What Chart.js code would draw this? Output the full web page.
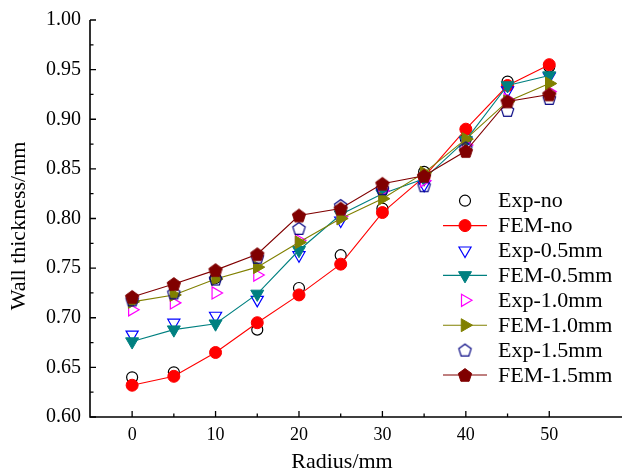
<!DOCTYPE html>
<html>
<head>
<meta charset="utf-8">
<script src="https://cdn.jsdelivr.net/npm/chart.js@4.4.0/dist/chart.umd.min.js"></script>
<style>
    html, body { margin: 0; padding: 0; background: #fff; }
    #contenedor { width: 622px; height: 474px; }
</style>
</head>
<body>
<div id="contenedor"><canvas id="grafico" width="622" height="474"></canvas></div>
<script>
// datos
const radius = [0, 5, 10, 15, 20, 25, 30, 35, 40, 45, 50];
const expNo  = [0.640, 0.645, 0.740, 0.688, 0.730, 0.763, 0.810, 0.847, 0.880, 0.938, 0.953];
const femNo  = [0.632, 0.641, 0.665, 0.695, 0.723, 0.754, 0.806, 0.842, 0.890, 0.934, 0.955];
const exp05  = [0.683, 0.695, 0.702, 0.718, 0.763, 0.798, 0.826, 0.834, 0.878, 0.929, 0.943];
const fem05  = [0.676, 0.688, 0.694, 0.724, 0.768, 0.804, 0.825, 0.840, 0.879, 0.934, 0.944];
const exp10  = [0.708, 0.715, 0.725, 0.743, 0.778, 0.802, 0.828, 0.838, 0.874, 0.920, 0.928];
const fem10  = [0.716, 0.723, 0.739, 0.751, 0.776, 0.800, 0.820, 0.846, 0.880, 0.918, 0.936];
const exp15  = [0.718, 0.725, 0.739, 0.761, 0.790, 0.813, 0.830, 0.833, 0.871, 0.909, 0.921];
const fem15  = [0.721, 0.734, 0.748, 0.764, 0.803, 0.810, 0.835, 0.843, 0.868, 0.918, 0.925];

const xTicks = [0, 10, 20, 30, 40, 50];
const xMinor = [5, 15, 25, 35, 45];
const yTicks = [0.60, 0.65, 0.70, 0.75, 0.80, 0.85, 0.90, 0.95, 1.00];
const yMinor = [0.625, 0.675, 0.725, 0.775, 0.825, 0.875, 0.925, 0.975];

const FUENTE = '"Liberation Serif", "Times New Roman", serif';

// Funcion para crear un pentagono como imagen de marcador
const pentagono = (r, relleno, borde, grosor) => {
    const c = document.createElement('canvas');
    const s = Math.ceil(2 * r + 4);
    c.width = s; c.height = s;
    const g = c.getContext('2d');
    g.beginPath();
    for (let i = 0; i < 5; i++) {
        const a = -Math.PI / 2 + i * 2 * Math.PI / 5;
        const px = s / 2 + r * Math.cos(a);
        const py = s / 2 + 0.6 + r * Math.sin(a);
        if (i === 0) g.moveTo(px, py); else g.lineTo(px, py);
    }
    g.closePath();
    if (relleno) { g.fillStyle = relleno; g.fill(); }
    if (borde) { g.strokeStyle = borde; g.lineWidth = grosor; g.stroke(); }
    return c;
};

const puntos = (valores) => radius.map((r, i) => ({ x: r, y: valores[i] }));

const serieExp = (label, valores, color, estilo, radio, rot) => ({
    label, data: puntos(valores), showLine: false,
    pointStyle: estilo, pointRadius: radio, pointRotation: rot || 0,
    pointBorderColor: color, pointBackgroundColor: 'rgba(0,0,0,0)', pointBorderWidth: 1.2,
    borderColor: color, backgroundColor: 'rgba(0,0,0,0)'
});

const serieFem = (label, valores, color, estilo, radio, rot) => ({
    label, data: puntos(valores), showLine: true, borderWidth: 1.1,
    borderColor: color, backgroundColor: color,
    pointStyle: estilo, pointRadius: radio, pointRotation: rot || 0,
    pointBorderColor: color, pointBackgroundColor: color, pointBorderWidth: 1
});

const series = [
    serieExp('Exp-no', expNo, '#000000', 'circle', 5.5),
    serieFem('FEM-no', femNo, '#ff0000', 'circle', 6),
    serieExp('Exp-0.5mm', exp05, '#0000ff', 'triangle', 7, 180),
    serieFem('FEM-0.5mm', fem05, '#008080', 'triangle', 7.5, 180),
    serieExp('Exp-1.0mm', exp10, '#ff00ff', 'triangle', 7, 90),
    serieFem('FEM-1.0mm', fem10, '#808000', 'triangle', 7.5, 90),
    serieExp('Exp-1.5mm', exp15, '#000080', pentagono(6.5, null, '#000080', 1.2), 7),
    serieFem('FEM-1.5mm', fem15, '#800000', pentagono(7, '#800000', '#800000', 1), 7)
];
series.forEach((s, i) => { s.order = -i; });

// Plugin para ejes, marcas, titulos y leyenda
const ejesYLeyenda = {
    id: 'ejesYLeyenda',
    afterDraw(chart) {
        const ctx = chart.ctx;
        const a = chart.chartArea;
        const sx = chart.scales.x, sy = chart.scales.y;
        ctx.save();
        ctx.strokeStyle = '#000';
        ctx.lineWidth = 1.6;
        ctx.beginPath();
        ctx.moveTo(a.left, a.top);
        ctx.lineTo(a.left, a.bottom);
        ctx.lineTo(chart.width, a.bottom);
        ctx.stroke();

        ctx.lineWidth = 1.3;
        ctx.beginPath();
        yTicks.forEach(v => { const y = sy.getPixelForValue(v); ctx.moveTo(a.left, y); ctx.lineTo(a.left + 6, y); });
        yMinor.forEach(v => { const y = sy.getPixelForValue(v); ctx.moveTo(a.left, y); ctx.lineTo(a.left + 3.5, y); });
        xTicks.forEach(v => { const x = sx.getPixelForValue(v); ctx.moveTo(x, a.bottom); ctx.lineTo(x, a.bottom - 6); });
        xMinor.forEach(v => { const x = sx.getPixelForValue(v); ctx.moveTo(x, a.bottom); ctx.lineTo(x, a.bottom - 3.5); });
        ctx.stroke();

        // titulos de los ejes
        ctx.fillStyle = '#000';
        ctx.font = '22px ' + FUENTE;
        ctx.textAlign = 'center';
        ctx.textBaseline = 'middle';
        ctx.fillText('Radius/mm', 342, 462);
        ctx.save();
        ctx.translate(19, 226);
        ctx.rotate(-Math.PI / 2);
        ctx.fillText('Wall thickness/mm', 0, 0);
        ctx.restore();

        // leyenda
        const x0 = 443, x1 = 487, xm = 465, xt = 498;
        ctx.font = '22px ' + FUENTE;
        ctx.textAlign = 'left';
        chart.data.datasets.forEach((ds, i) => {
            const y = 200.7 + i * 24.9;
            if (ds.showLine) {
                ctx.strokeStyle = ds.borderColor;
                ctx.lineWidth = 1.1;
                ctx.beginPath(); ctx.moveTo(x0, y); ctx.lineTo(x1, y); ctx.stroke();
            }
            ctx.fillStyle = ds.pointBackgroundColor;
            ctx.strokeStyle = ds.pointBorderColor;
            ctx.lineWidth = ds.pointBorderWidth;
            Chart.helpers.drawPoint(ctx, {
                pointStyle: ds.pointStyle, radius: ds.pointRadius,
                rotation: ds.pointRotation, borderWidth: ds.pointBorderWidth
            }, xm, y);
            ctx.fillStyle = '#000';
            ctx.fillText(ds.label, xt, y + 1);
        });
        ctx.restore();
    }
};

const grafico = new Chart(document.getElementById('grafico').getContext('2d'), {
    type: 'line',
    data: { datasets: series },
    options: {
        responsive: false,
        devicePixelRatio: 1,
        animation: false,
        layout: { padding: { top: 20, right: 0, bottom: 0, left: 0 } },
        plugins: { legend: { display: false }, tooltip: { enabled: false } },
        scales: {
            x: {
                type: 'linear', min: -5.05, max: 57.7,
                grid: { display: false, drawTicks: false },
                border: { display: false },
                afterBuildTicks: (s) => { s.ticks = xTicks.map(v => ({ value: v })); },
                afterFit: (s) => { s.height = 57; s.paddingLeft = 0; s.paddingRight = 0; },
                ticks: { color: '#000', font: { family: FUENTE, size: 18 }, padding: 7, maxRotation: 0 }
            },
            y: {
                type: 'linear', min: 0.6, max: 1.0,
                grid: { display: false, drawTicks: false },
                border: { display: false },
                afterBuildTicks: (s) => { s.ticks = yTicks.map(v => ({ value: v })); },
                afterFit: (s) => { s.width = 90; s.paddingTop = 0; s.paddingBottom = 0; },
                ticks: { color: '#000', font: { family: FUENTE, size: 20 }, padding: 9, callback: (v) => Number(v).toFixed(2) }
            }
        }
    },
    plugins: [ejesYLeyenda]
});
</script>
</body>
</html>
